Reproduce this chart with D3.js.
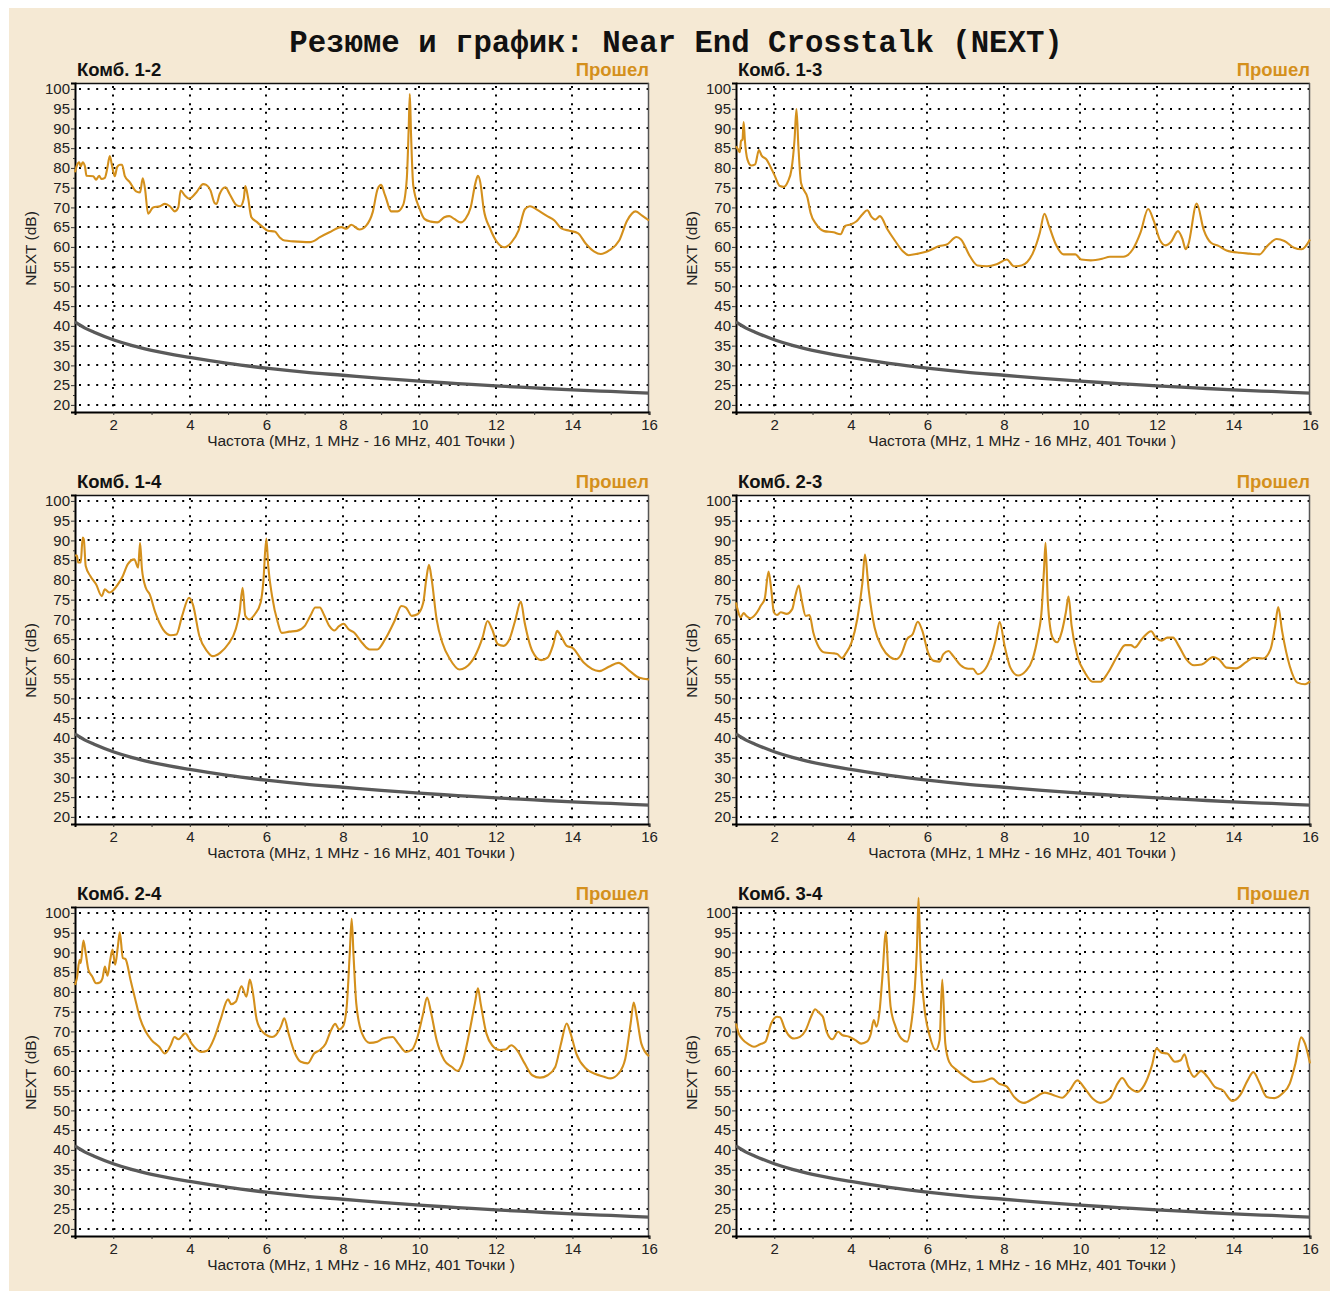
<!DOCTYPE html>
<html><head><meta charset="utf-8">
<script src="https://cdn.jsdelivr.net/npm/d3@7"></script>
<style>
html,body{margin:0;padding:0;background:#fff;}
svg{display:block;}
</style></head>
<body>
<script>
// ---------- DATA ----------
const chartTitle = "Резюме и график: Near End Crosstalk (NEXT)";
const pairNames = ["Комб. 1-2", "Комб. 1-3", "Комб. 1-4", "Комб. 2-3", "Комб. 2-4", "Комб. 3-4"];
const statusText = "Прошел";
const xAxisTitle = "Частота (MHz, 1 MHz - 16 MHz, 401 Точки )";
const yAxisTitle = "NEXT (dB)";
const xTicks = [2, 4, 6, 8, 10, 12, 14, 16];
const xMinorTicks = [3, 5, 7, 9, 11, 13, 15];
const yTicks = [20, 25, 30, 35, 40, 45, 50, 55, 60, 65, 70, 75, 80, 85, 90, 95, 100];

// limit line
const limitFreq = [1, 1.25, 1.5, 2, 2.5, 3, 4, 5, 6, 7, 8, 9, 10, 11, 12, 13, 14, 15, 16];
const limitVal  = [41, 39.5, 38.4, 36.5, 35.0, 33.8, 32.0, 30.5, 29.3, 28.3, 27.5, 26.7, 26.0, 25.4, 24.8, 24.3, 23.8, 23.4, 23.0];

// Комб. 1-2
const f12 = [1.0,1.04,1.11,1.15,1.2,1.26,1.30,1.48,1.55,1.63,1.69,1.78,1.84,1.91,1.97,2.04,2.10,2.17,2.23,2.30,2.43,2.61,2.70,2.77,2.83,2.91,3.04,3.22,3.35,3.48,3.61,3.70,3.76,3.87,3.98,4.17,4.35,4.43,4.54,4.65,4.70,4.78,4.93,5.04,5.22,5.32,5.41,5.45,5.52,5.61,5.74,5.91,6.04,6.22,6.35,6.48,6.70,7.13,7.22,7.39,7.65,7.96,8.09,8.22,8.43,8.61,8.78,8.91,9.0,9.09,9.13,9.26,9.43,9.57,9.67,9.72,9.75,9.78,9.84,10.0,10.13,10.30,10.47,10.65,10.78,10.91,11.08,11.21,11.34,11.47,11.53,11.59,11.68,11.85,12.03,12.22,12.41,12.59,12.76,12.89,13.06,13.32,13.53,13.71,13.92,14.14,14.35,14.57,14.74,14.96,15.22,15.43,15.65,15.82,16.0];
const v12 = [78.9,80.4,81.4,80.4,81.4,80.4,78,77.9,77,78,77.2,77.5,79.7,83,80.4,77.9,80.2,80.8,80.8,78,76.4,74,73.8,77.4,74.7,68.4,70,70.3,70.9,70.3,69,70,74.3,73,72.2,73.8,75.9,75.7,74.3,71.1,70.9,73.4,75.1,73.4,70.6,70.3,72.2,75.4,72.6,67.5,66.4,65,64.1,63.9,62.4,61.6,61.4,61.2,61.4,62.4,63.7,65,64.6,65.6,64.4,65.4,68.8,74.7,75.7,73.4,72.3,69,69,70.5,77.2,89.9,98.7,89,75.5,69.8,67.1,66.4,66.2,67.5,67.8,67.1,66.2,67.2,70,76.4,78,76.4,69.6,64.6,61.2,59.9,61.2,64.1,69.6,70.3,69.5,67.9,66.7,64.7,64.1,63.5,60.8,58.8,58.2,59.1,61.6,66.7,69,67.9,66.7];

// Комб. 1-3
const f13 = [1.0,1.05,1.10,1.13,1.17,1.20,1.23,1.30,1.40,1.50,1.60,1.67,1.80,1.90,2.0,2.15,2.25,2.35,2.45,2.53,2.58,2.63,2.70,2.87,2.95,3.10,3.30,3.55,3.73,3.85,4.0,4.15,4.30,4.43,4.54,4.64,4.76,4.96,5.16,5.36,5.51,5.76,6.01,6.31,6.51,6.76,6.88,7.11,7.31,7.56,7.81,8.08,8.26,8.46,8.76,8.94,9.06,9.18,9.36,9.56,9.87,10.02,10.27,10.57,10.77,11.12,11.37,11.57,11.77,11.92,12.07,12.22,12.37,12.55,12.67,12.75,12.82,13.04,13.22,13.42,13.62,13.82,14.17,14.42,14.68,14.88,15.13,15.33,15.58,15.78,16.0];
const v13 = [85.5,84.7,84,86.8,87.2,91.6,87.2,82.1,80.6,80.9,84.5,83.1,82.1,80.3,78.3,75.4,75.2,76.4,79.6,87.2,94.9,85.5,76.2,72.4,68.6,65.7,64,63.7,63.2,65.3,65.7,66.5,68.2,69.3,67.6,66.9,67.8,64.4,61.5,58.9,57.9,58.3,58.9,60.2,60.6,62.5,61.9,57.7,55.3,55.1,55.6,56.8,55.1,55.3,58.5,63.6,68.4,65.3,60.6,58.1,58.1,56.8,56.6,57,57.5,57.5,59.4,63.6,69.6,66.5,61.9,60.4,61.3,64,61.9,59.4,60.6,71,64.4,61,60.2,59.1,58.5,58.3,58.1,60.2,62,61.5,59.8,59.4,61.9];

// Комб. 1-4
const f14 = [1.0,1.05,1.08,1.15,1.2,1.23,1.28,1.4,1.55,1.7,1.78,1.9,2.0,2.15,2.25,2.38,2.55,2.65,2.7,2.75,2.85,2.95,3.1,3.3,3.5,3.65,3.8,3.98,4.08,4.25,4.45,4.6,4.8,5.0,5.2,5.3,5.38,5.45,5.55,5.7,5.85,5.92,6.0,6.05,6.15,6.3,6.4,6.6,6.8,7.0,7.15,7.28,7.4,7.5,7.65,7.78,7.9,8.02,8.15,8.3,8.5,8.7,8.9,9.1,9.35,9.53,9.65,9.8,9.95,10.1,10.18,10.25,10.32,10.45,10.6,10.8,11.05,11.2,11.45,11.65,11.78,11.9,12.05,12.2,12.35,12.5,12.65,12.75,12.95,13.18,13.35,13.5,13.6,13.7,13.85,14.0,14.3,14.7,14.95,15.2,15.5,15.75,16.0];
const v14 = [86.2,86.2,84.4,84.4,90.7,90.3,83.5,81,78.9,75.9,77.6,76.8,77.4,79.3,81,84,85.2,83.1,89.4,82.7,78,76.4,71.7,67.5,66,66.2,70.9,75.5,73.8,65.8,62,60.7,61.6,63.7,67.5,71.7,78,70.9,70,71.3,74.2,79.3,90.5,83.5,75.9,69.2,66.6,66.9,67.1,68.3,70.9,73,73,71.3,68.3,67.2,68.3,68.9,67.5,66.6,64.1,62.4,62.4,64.9,69.6,73.4,73,70.9,71.3,74.2,80.2,83.8,80.2,70,64.1,59.9,57.3,57.8,60.7,65.4,69.6,67.5,63.7,63.3,64.9,69.6,74.5,69.2,62,59.7,60.3,63.7,67.1,65.8,63.3,62.8,59,56.9,58,59,56.9,55.2,54.8];

// Комб. 2-3
const f23 = [1.0,1.05,1.12,1.2,1.27,1.37,1.52,1.65,1.75,1.85,1.92,1.99,2.07,2.17,2.32,2.47,2.55,2.64,2.72,2.82,2.92,3.02,3.17,3.32,3.57,3.65,3.77,3.87,4.02,4.17,4.3,4.37,4.47,4.62,4.82,5.02,5.17,5.32,5.47,5.62,5.75,5.87,6.02,6.17,6.32,6.42,6.55,6.67,6.87,7.07,7.19,7.32,7.47,7.67,7.79,7.89,8.02,8.17,8.37,8.57,8.75,8.89,8.99,9.05,9.09,9.15,9.27,9.39,9.52,9.62,9.69,9.77,9.92,10.12,10.32,10.52,10.72,10.97,11.17,11.32,11.42,11.62,11.85,11.97,12.12,12.27,12.42,12.57,12.77,12.97,13.17,13.47,13.62,13.82,14.07,14.32,14.52,14.77,14.97,15.09,15.17,15.27,15.47,15.67,15.87,16.0];
const v23 = [74.3,72.2,70.5,71.6,70.9,70.3,71.4,73.5,75.2,82.1,77.7,71.8,71.1,71.8,71.4,72.6,76,78.6,74.7,70.9,71.1,66.7,62.9,61.6,61.4,61.2,60.2,61.4,64.2,70.1,79,86.4,77.3,68,62.9,60.5,59.9,61.2,65,66.3,69.4,67.1,61.6,59.5,59.3,61.2,62,60.8,58.4,57.5,57.5,56.1,56.9,60.8,65,69.4,63.3,57.8,55.8,56.9,59.9,65.8,72.6,82.8,89.4,74.3,65.4,64.2,67.1,71.8,75.8,68.4,60.8,56.5,54.2,54.2,56.5,60.8,63.5,63.5,62.9,65.2,67,65.4,64.6,65.4,65.4,63.3,59.9,58.4,58.6,60.5,59.9,57.8,57.6,59.1,60.3,60.1,62.5,68.4,73.1,67.1,58.2,54,53.6,54.3];

// Комб. 2-4
const f24 = [1.0,1.05,1.12,1.15,1.22,1.28,1.35,1.45,1.55,1.65,1.72,1.78,1.85,1.92,1.98,2.05,2.12,2.17,2.25,2.32,2.45,2.6,2.7,2.85,3.0,3.2,3.35,3.5,3.6,3.7,3.88,4.05,4.3,4.45,4.65,4.8,5.0,5.08,5.2,5.35,5.48,5.57,5.65,5.75,5.9,6.15,6.25,6.38,6.47,6.58,6.75,6.9,7.08,7.25,7.4,7.55,7.7,7.8,7.9,8.0,8.1,8.18,8.23,8.28,8.35,8.5,8.7,8.9,9.05,9.3,9.45,9.65,9.8,9.95,10.1,10.2,10.3,10.45,10.65,10.85,11.0,11.1,11.3,11.45,11.53,11.6,11.75,11.9,12.1,12.25,12.4,12.55,12.75,12.95,13.15,13.35,13.55,13.7,13.85,13.95,14.1,14.35,14.6,14.8,15.0,15.2,15.38,15.52,15.6,15.68,15.8,16.0];
const v24 = [81.8,83.5,88.1,87.3,93,89.8,85.6,83.9,82.2,82.4,83.5,86.4,84.1,88.1,90.7,86.9,91.5,95.1,88.6,88.3,83.1,77.1,73.3,69.9,67.8,66.1,64.4,66.5,68.6,68,69.5,66.9,64.8,65.1,68.6,72.9,78.1,76.9,77.5,81.4,78.8,83.1,79.7,72.9,69.9,68.6,69.1,71.2,73.3,69.5,64.4,62.3,61.9,64.4,65.3,66.9,70.5,71.9,70.5,71.2,76.3,89.8,98.5,89,77.1,69.5,67.1,67.4,68.2,68.6,66.9,64.8,65.3,68.6,74.6,78.6,75,67.8,62.7,61,60,61.4,69.5,77.1,80.9,77.1,69.5,66.5,65.3,65.4,66.5,65.3,61.9,58.9,58.3,58.9,61,66.9,72,69.5,64.4,60.6,59.2,58.6,58.1,59.3,63.1,72,77.3,73.7,66.9,63.7];

// Комб. 3-4
const f34 = [1.0,1.07,1.17,1.32,1.47,1.62,1.77,1.92,2.07,2.15,2.27,2.37,2.52,2.67,2.82,2.97,3.07,3.17,3.27,3.37,3.52,3.67,3.77,3.97,4.12,4.27,4.42,4.52,4.6,4.67,4.75,4.82,4.92,4.97,5.04,5.17,5.32,5.47,5.57,5.67,5.73,5.77,5.82,5.92,6.07,6.22,6.32,6.39,6.47,6.57,6.77,7.02,7.22,7.47,7.69,7.87,8.07,8.27,8.52,8.77,9.07,9.32,9.52,9.72,9.92,10.12,10.32,10.52,10.77,10.97,11.09,11.27,11.49,11.67,11.87,11.99,12.12,12.27,12.47,12.62,12.72,12.82,12.97,13.15,13.32,13.52,13.72,13.97,14.17,14.37,14.52,14.67,14.87,15.07,15.27,15.47,15.62,15.77,15.87,16.0];
const v34 = [72,69.5,68,66.8,66.1,66.7,67.4,72,73.7,73.6,70.8,69.1,68.2,68.6,70.3,73.9,75.6,74.7,73.7,69.9,68,69.9,69.1,68.6,67.8,66.9,67.4,69.3,72.9,71.2,75,83.1,95.3,86.4,76.3,71.2,68.2,67.4,71.2,80.5,91.5,103.8,89,76.3,68.6,65.3,67.8,83.1,66.9,62.3,60.2,58.3,57.2,57.4,58.1,56.8,56.1,53.4,51.9,53,54.5,53.8,53.2,55.1,57.6,55.5,53,51.9,53,56.8,58.2,55.9,54.7,56.4,61.4,65.7,64.6,64.4,62.3,62.7,64.2,61,58.5,60,58.5,55.9,55.1,52.4,53.8,57.6,59.7,57.2,53.4,53.1,54.2,56.8,61.9,68.5,66.9,61.9];

const panelFreqs = [f12, f13, f14, f23, f24, f34];
const panelVals  = [v12, v13, v14, v23, v24, v34];

// ---------- LAYOUT ----------
const W = 1330, H = 1291;
const plotW = 574, plotH = 329;
const colX = [75, 736];
const rowY = [83, 495, 907];

const svg = d3.select("body").append("svg").attr("width", W).attr("height", H);
svg.append("rect").attr("x", 9).attr("y", 8).attr("width", W - 9).attr("height", H - 8).attr("fill", "#f5e9d4");

svg.append("text").attr("x", 676).attr("y", 52).attr("text-anchor", "middle")
  .attr("font-family", "'Liberation Mono', 'Courier New', monospace").attr("font-weight", "bold")
  .attr("font-size", 30.7).attr("fill", "#111").text(chartTitle);

const x = d3.scaleLinear().domain([1, 16]).range([0, plotW]);
const y = d3.scaleLinear().domain([18.2, 101.5]).range([plotH, 0]);
const orange = "#d4901c";
const sans = "'Liberation Sans', Arial, sans-serif";

pairNames.forEach((name, i) => {
  const cx = colX[i % 2], cy = rowY[Math.floor(i / 2)];
  const g = svg.append("g").attr("transform", `translate(${cx},${cy})`);

  g.append("rect").attr("width", plotW).attr("height", plotH).attr("fill", "#fff");

  // grid
  const grid = g.append("g").attr("stroke", "#000").attr("stroke-width", 2).attr("stroke-dasharray", "2,6.6");
  yTicks.forEach(t => grid.append("line").attr("x1", 4).attr("x2", plotW).attr("y1", Math.round(y(t))).attr("y2", Math.round(y(t))));
  xTicks.filter(t => t < 16).forEach(t => grid.append("line").attr("y1", 3).attr("y2", plotH).attr("x1", Math.round(x(t))).attr("x2", Math.round(x(t))));

  // border top/right
  g.append("line").attr("x1", 0).attr("x2", plotW).attr("y1", 0.5).attr("y2", 0.5).attr("stroke", "#111").attr("stroke-width", 1.5);
  g.append("line").attr("x1", plotW - 0.5).attr("x2", plotW - 0.5).attr("y1", 0).attr("y2", plotH).attr("stroke", "#555").attr("stroke-width", 1.5);

  // axes
  const yAxis = g.append("g").call(d3.axisLeft(y).tickValues(yTicks).tickSize(4).tickPadding(1).tickFormat(d3.format("d")));
  const yMinor = g.append("g").call(d3.axisLeft(y).tickValues(yTicks.slice(0, -1).map(t => t + 2.5)).tickSize(2).tickFormat(""));
  const xAxis = g.append("g").attr("transform", `translate(0,${plotH})`)
    .call(d3.axisBottom(x).tickValues(xTicks).tickSize(3).tickPadding(4).tickFormat(d3.format("d")));
  const xMinor = g.append("g").attr("transform", `translate(0,${plotH})`)
    .call(d3.axisBottom(x).tickValues(xMinorTicks).tickSize(3).tickFormat(""));
  [yAxis, yMinor, xAxis, xMinor].forEach(a => {
    a.select(".domain").attr("stroke", "#000").attr("stroke-width", 2);
    a.selectAll(".tick line").attr("stroke", "#333");
    a.selectAll("text").attr("font-family", sans).attr("font-size", 15).attr("fill", "#222");
  });
  yMinor.select(".domain").remove(); xMinor.select(".domain").remove();

  // limit line
  const limitData = limitFreq.map((f, k) => [f, limitVal[k]]);
  g.append("path").datum(limitData)
    .attr("d", d3.line().x(d => x(d[0])).y(d => y(d[1])).curve(d3.curveMonotoneX))
    .attr("fill", "none").attr("stroke", "#5a5a5a").attr("stroke-width", 3.3);

  // measured line
  const fr = panelFreqs[i], vs = panelVals[i];
  const data = fr.map((f, k) => [f, vs[k]]);
  g.append("path").datum(data)
    .attr("d", d3.line().x(d => x(d[0])).y(d => y(d[1])).curve(d3.curveMonotoneX))
    .attr("fill", "none").attr("stroke", orange).attr("stroke-width", 2.1).attr("stroke-linejoin", "round");

  // titles
  g.append("text").attr("x", 2).attr("y", -7).attr("font-family", sans).attr("font-weight", "bold")
    .attr("font-size", 18.5).attr("fill", "#111").text(name);
  g.append("text").attr("x", plotW).attr("y", -7).attr("text-anchor", "end").attr("font-family", sans)
    .attr("font-weight", "bold").attr("font-size", 18.5).attr("fill", orange).text(statusText);
  g.append("text").attr("x", plotW / 2 - 1).attr("y", plotH + 34).attr("text-anchor", "middle")
    .attr("font-family", sans).attr("font-size", 15.5).attr("fill", "#222").text(xAxisTitle);
  g.append("text").attr("transform", `translate(-39,${plotH / 2 + 1}) rotate(-90)`).attr("text-anchor", "middle")
    .attr("font-family", sans).attr("font-size", 15.5).attr("fill", "#222").text(yAxisTitle);
});
</script>
</body></html>
